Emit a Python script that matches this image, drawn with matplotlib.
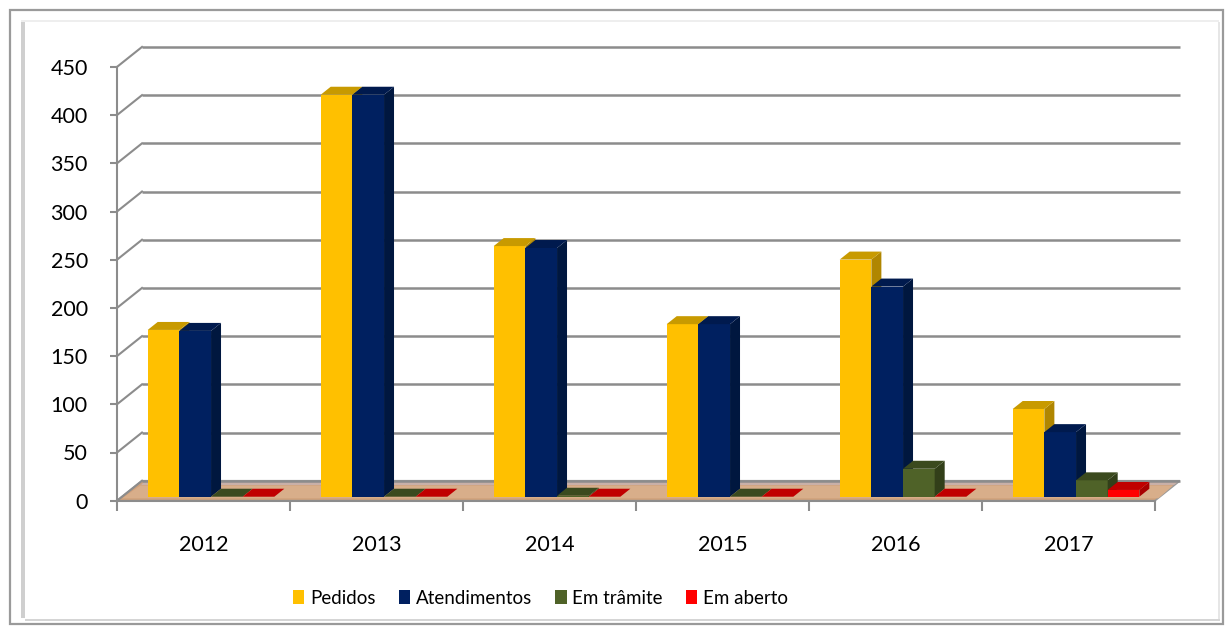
import matplotlib
matplotlib.use("Agg")
import matplotlib.pyplot as plt
from matplotlib.patches import Polygon, Patch, Rectangle

# ---------------- data ----------------
years = ["2012", "2013", "2014", "2015", "2016", "2017"]
series_names = ["Pedidos", "Atendimentos", "Em trâmite", "Em aberto"]
pedidos = [173, 417, 260, 179, 246, 91]
atendimentos = [172, 417, 258, 179, 218, 67]
em_tramite = [0, 0, 1, 0, 29, 17]
em_aberto = [0, 0, 0, 0, 0, 7]
yticks = [0, 50, 100, 150, 200, 250, 300, 350, 400, 450]

series_values = [pedidos, atendimentos, em_tramite, em_aberto]
front_colors = ["#FFC000", "#002060", "#4F6228", "#FF0000"]
top_colors = ["#C89A00", "#001A4E", "#3B4A1E", "#C00000"]
side_colors = ["#B08600", "#00173F", "#323F19", "#A80000"]

plt.rcParams['font.family'] = ['Lato', 'DejaVu Sans']

W, H = 1225, 629
fig = plt.figure(figsize=(W / 100, H / 100), dpi=100)

# ---- outer frame ----
def px_rect(x0, y0, x1, y1, **kw):
    r = Rectangle((x0 / W, 1 - y1 / H), (x1 - x0) / W, (y1 - y0) / H,
                  transform=fig.transFigure, **kw)
    fig.add_artist(r)

px_rect(10, 10, 1223, 624, fill=False, edgecolor="#9a9a9a", linewidth=1.6)
px_rect(21, 21, 25, 618, facecolor="#cfcfcf", edgecolor="none")
px_rect(21, 20, 1219, 22, facecolor="#eeeeee", edgecolor="none")
px_rect(25, 619, 1220, 621, facecolor="#d5d5d5", edgecolor="none")
px_rect(1218, 22, 1220, 619, facecolor="#e6e6e6", edgecolor="none")

# ---- axes geometry ----
ncat = len(years)
DX = 0.1445      # full depth offset in category units
DY = 20.7        # full depth offset in value units
ymax = max(yticks)

x_left_px, x_right_px = 117, 117 + (ncat + DX) * 173
y0_px = 500.7
scale = 0.964
ytop_val = ymax + DY
ax = fig.add_axes([x_left_px / W, 1 - y0_px / H,
                   (x_right_px - x_left_px) / W, ytop_val * scale / H])
ax.set_xlim(0, ncat + DX)
ax.set_ylim(0, ytop_val)
ax.patch.set_alpha(0)

grid_col = "#8c8c8c"
# floor
floor = Polygon([(0, 0), (ncat, 0), (ncat + DX, DY), (DX, DY)], closed=True,
                facecolor="#CFA07A", edgecolor="#9a9a9a", linewidth=1.2, zorder=1)
ax.add_patch(floor)
ax.add_patch(Polygon([(0.03, 2.5), (ncat + 0.02, 2.5), (ncat + DX - 0.04, DY - 5),
                      (DX - 0.01, DY - 5)], closed=True,
                     facecolor="#D8AE8A", edgecolor="none", zorder=1.1))
ax.add_patch(Polygon([(DX - 0.005, DY - 4.5), (ncat + DX - 0.035, DY - 4.5),
                      (ncat + DX - 0.01, DY - 1), (DX + 0.01, DY - 1)], closed=True,
                     facecolor="#C9B0A8", edgecolor="none", zorder=1.15))

# gridlines on back wall and side wall
for v in yticks:
    ax.plot([DX, ncat + DX], [v + DY, v + DY], color=grid_col, lw=1.8, zorder=1.5,
            solid_capstyle="butt", clip_on=False)
    ax.plot([0, DX], [v, v + DY], color=grid_col, lw=1.5, zorder=1.5, clip_on=False)

# spines / ticks
for s in ["top", "right"]:
    ax.spines[s].set_visible(False)
ax.spines["left"].set_bounds(0, ymax)
ax.spines["bottom"].set_bounds(0, ncat)
for s in ["left", "bottom"]:
    ax.spines[s].set_color(grid_col)
    ax.spines[s].set_linewidth(1.5)
ax.set_yticks(yticks)
ax.set_yticklabels([str(v) for v in yticks])
ax.tick_params(axis="y", length=5, width=1.5, color=grid_col, pad=16, labelsize=15.5)
ax.set_xticks([i + 0.5 for i in range(ncat)])
ax.set_xticklabels(years)
ax.set_xticks(list(range(ncat + 1)), minor=True)
ax.tick_params(axis="x", which="major", length=0, pad=25, labelsize=15.5)
ax.tick_params(axis="x", which="minor", length=7, width=1.5, color=grid_col)

# ---- bars ----
bw = 0.183
start = 0.1486
f_front, f_depth = 0.2, 0.4
bx, by = f_front * DX, f_front * DY
ddx, ddy = f_depth * DX, f_depth * DY
z = 3
for ci in range(ncat):
    for si, vals in enumerate(series_values):
        v = vals[ci]
        xl = ci + start + si * bw + bx
        b = by
        ax.bar(xl, v, width=bw, bottom=b, align="edge", color=front_colors[si],
               edgecolor="none", zorder=z)
        side = Polygon([(xl + bw, b), (xl + bw, v + b), (xl + bw + ddx, v + b + ddy),
                        (xl + bw + ddx, b + ddy)], closed=True,
                       facecolor=side_colors[si], edgecolor="none", zorder=z + 0.1)
        top = Polygon([(xl, v + b), (xl + bw, v + b), (xl + bw + ddx, v + b + ddy),
                       (xl + ddx, v + b + ddy)], closed=True,
                      facecolor=top_colors[si], edgecolor="none", zorder=z + 0.2)
        ax.add_patch(side)
        ax.add_patch(top)
        z += 1

# ---- legend ----
handles = [Patch(facecolor=c, edgecolor="none") for c in front_colors]
fig.legend(handles, series_names, loc="center", bbox_to_anchor=(540.5 / W, 1 - 598 / H),
           ncol=4, frameon=False, fontsize=13.5, handlelength=0.6, handleheight=0.75,
           handletextpad=0.3, columnspacing=1.25)

fig.savefig("out.png", dpi=100)
